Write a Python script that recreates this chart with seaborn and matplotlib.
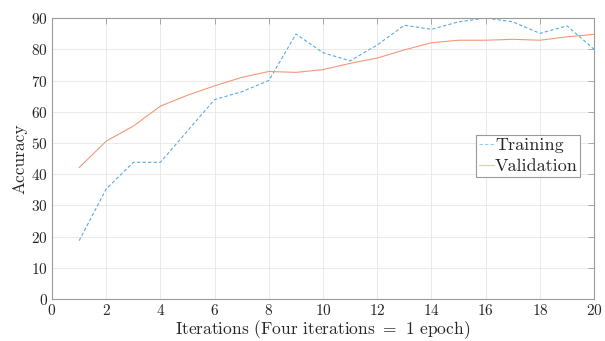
import numpy as np
import pandas as pd
import matplotlib
matplotlib.use("Agg")
import matplotlib.pyplot as plt
import seaborn as sns

iterations = list(range(1, 21))
training = [18.7, 35.3, 43.8, 43.8, 53.9, 63.9, 66.4, 70.0, 84.9, 78.9,
            76.3, 81.4, 87.7, 86.4, 88.8, 90.0, 88.8, 85.1, 87.5, 80.0]
validation = [42.1, 50.6, 55.4, 61.8, 65.3, 68.3, 71.0, 72.9, 72.6, 73.5,
              75.5, 77.2, 79.8, 82.1, 82.9, 82.9, 83.2, 82.9, 84.0, 84.8]
x_ticks = list(range(0, 21, 2))
y_ticks = list(range(0, 91, 10))

sns.set_theme(style="white")
plt.rcParams['font.family'] = ['cmr10', 'DejaVu Serif']
plt.rcParams['mathtext.fontset'] = 'cm'
plt.rcParams['axes.formatter.use_mathtext'] = True

fig = plt.figure(figsize=(6.05, 3.41), dpi=100)
ax = fig.add_axes([0.086, 0.123, 0.896, 0.824])

df_t = pd.DataFrame({"it": iterations, "acc": training})
df_v = pd.DataFrame({"it": iterations, "acc": validation})
sns.lineplot(data=df_t, x="it", y="acc", ax=ax, color="#5aaae6", lw=0.8,
             linestyle=(0, (3, 2)), label="Training")
sns.lineplot(data=df_v, x="it", y="acc", ax=ax, color="#f29878", lw=0.8,
             label="Validation")

ax.set_xlim(0, 20)
ax.set_ylim(0, 90)
ax.set_xticks(x_ticks)
ax.set_yticks(y_ticks)
ax.grid(True, color="#e6e6e6", lw=0.6)
for s in ax.spines.values():
    s.set_color("#9a9a9a")
    s.set_linewidth(0.8)
ax.tick_params(direction="in", length=4, width=0.6, color="#9a9a9a",
               top=True, right=True, labelsize=11, labelcolor="#262626", pad=3)
ax.set_xlabel("Iterations (Four iterations $=$ 1 epoch)", fontsize=12.5, labelpad=0)
ax.set_ylabel("Accuracy", fontsize=12.5, labelpad=3)

leg = ax.legend(loc="upper left", bbox_to_anchor=(0.782, 0.584), borderaxespad=0,
                fontsize=13, handlelength=0.85, handletextpad=0.05,
                borderpad=0.15, labelspacing=0.3, fancybox=False, framealpha=1)
leg.get_frame().set_edgecolor("#9a9a9a")
leg.get_frame().set_linewidth(0.8)
for h in leg.get_lines():
    h.set_alpha(0.6)

fig.savefig("out.png", dpi=100)
